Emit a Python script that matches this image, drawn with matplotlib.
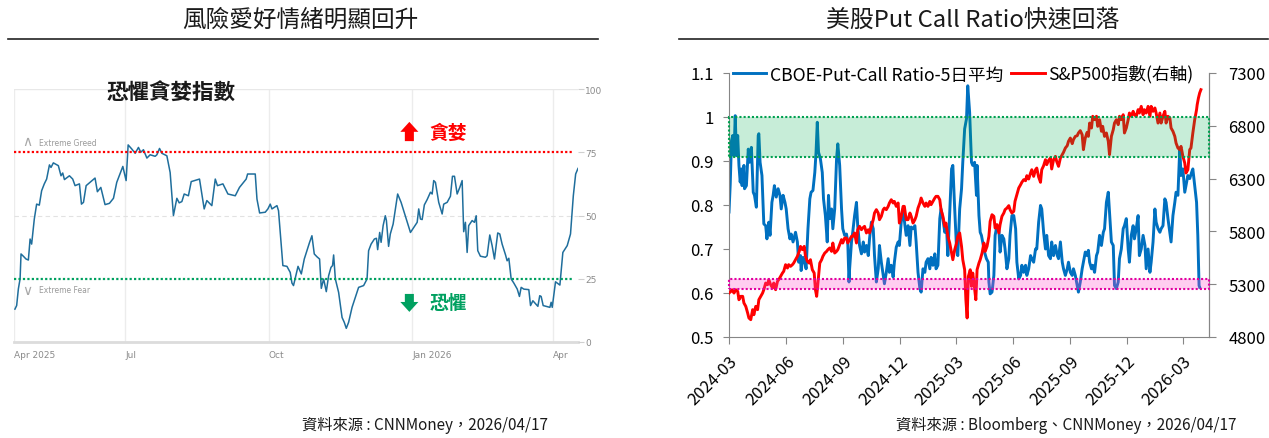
import matplotlib
matplotlib.use('Agg')
from matplotlib import pyplot as plt
from matplotlib.patches import Rectangle
from matplotlib.lines import Line2D
import matplotlib.transforms as mtransforms
import pandas as pd

plt.rcParams['font.family'] = ['Noto Sans CJK TC', 'DejaVu Sans']
NARROW = ['Liberation Sans Narrow', 'DejaVu Sans']

# ---------------- left: CNN fear & greed index (days since 2025-04-21)
fg_start = '2025-04-21'
fg_day = [0.4, 1.5, 2.6, 3.7, 4.3, 5.8, 7.5, 9.0, 10.1, 11.1,
          12.8, 14.3, 16.0, 17.5, 19.2, 20.7, 22.5, 23.5, 25.0, 28.2,
          29.9, 31.0, 32.1, 35.3, 37.4, 38.9, 41.7, 43.0, 44.3, 46.0,
          48.5, 51.7, 53.2, 55.4, 58.1, 60.9, 63.5, 65.6, 69.5, 71.6,
          72.9, 75.2, 77.4, 79.5, 81.0, 82.7, 84.9, 87.0, 90.2, 91.3,
          93.0, 94.5, 97.7, 99.8, 101.9, 104.1, 105.6, 107.3, 108.8, 111.5,
          113.3, 118.6, 121.6, 123.3, 126.5, 128.7, 130.1, 133.6, 136.8, 141.5,
          144.2, 148.5, 149.4, 154.3, 155.4, 157.1, 160.7, 162.4, 163.9, 165.0,
          168.2, 169.2, 172.0, 174.6, 176.7, 177.8, 178.8, 181.7, 183.8,
          185.7, 187.4, 189.1, 190.6, 192.1, 193.8, 195.5, 196.6, 198.1, 199.8,
          201.3, 202.8, 203.8, 204.5, 205.6, 207.7, 209.9, 211.3, 212.6, 214.1,
          216.3, 218.4, 220.5, 223.7, 225.9, 226.9, 228.5, 230.6, 231.9, 232.7,
          234.0, 234.9, 236.2, 237.6, 238.3, 239.7, 240.8, 242.6, 245.5, 247.7,
          250.4, 253.7, 255.4, 258.0, 259.0, 260.1, 261.2, 262.6, 264.4, 266.5,
          267.6, 268.6, 269.7, 271.8, 274.0, 275.0, 277.2, 279.3, 280.6, 281.9,
          283.6, 285.3, 286.8, 287.8, 288.9, 290.0, 291.0, 293.2, 294.7, 295.8,
          296.8, 298.5, 301.7, 302.8, 304.5, 306.0, 307.5, 309.6, 310.9, 312.4,
          314.6, 315.6, 316.7, 318.2, 319.9, 322.1, 323.5, 324.6, 326.3, 329.5,
          330.6, 332.1, 335.3, 336.5, 337.4, 338.7, 343.0, 343.8, 344.5, 346.6,
          349.4, 351.3, 353.0, 354.1, 356.2, 358.0, 359.5, 361.0]
fg_val = [13.0, 14.4, 21.0, 25.0, 34.8, 33.9, 32.8, 32.4, 40.7, 38.7,
          48.6, 54.5, 54.1, 59.8, 62.5, 64.4, 70.0, 69.0, 70.8, 69.7,
          65.7, 66.8, 64.2, 65.7, 64.4, 61.8, 62.5, 54.5, 55.2, 61.8,
          63.1, 64.8, 59.4, 61.1, 54.3, 54.8, 56.8, 63.1, 69.4, 63.8,
          77.9, 76.3, 74.6, 76.9, 75.0, 76.0, 72.7, 74.0, 73.4, 74.0,
          76.5, 74.6, 73.6, 67.0, 50.0, 56.8, 55.0, 55.5, 58.5, 57.8,
          63.4, 64.4, 52.6, 55.9, 53.9, 64.4, 61.8, 62.5, 58.5, 57.8,
          61.1, 64.4, 66.4, 66.4, 56.5, 51.0, 51.3, 52.6, 54.5, 52.6,
          53.9, 51.9, 30.2, 29.9, 27.5, 23.3, 22.3, 29.9, 26.9,
          32.8, 36.1, 39.4, 42.0, 34.8, 33.7, 32.8, 21.2, 24.9, 19.9,
          26.2, 29.5, 30.2, 34.4, 24.9, 19.6, 9.7, 7.8, 5.4, 7.8,
          13.7, 17.7, 21.6, 22.3, 24.9, 36.1, 38.7, 40.7, 41.0, 36.5,
          43.3, 39.4, 46.0, 49.9, 48.0, 37.8, 42.7, 46.6, 58.5, 55.2,
          49.9, 43.3, 44.9, 47.3, 52.6, 48.6, 48.4, 54.2, 56.3, 59.2,
          58.5, 63.8, 63.1, 55.2, 50.6, 54.5, 55.2, 57.6, 65.5, 65.5,
          58.5, 61.1, 63.8, 43.6, 47.3, 35.4, 46.0, 48.0, 47.3, 49.9,
          36.1, 33.9, 33.5, 34.1, 42.3, 38.1, 32.8, 43.1, 42.7, 38.7,
          34.4, 32.1, 33.1, 24.9, 23.3, 20.9, 18.0, 21.6, 20.9, 20.7,
          14.4, 16.3, 14.1, 18.3, 18.0, 14.4, 13.7, 15.7, 13.7, 23.8,
          22.5, 35.4, 37.0, 38.1, 42.7, 57.8, 66.4, 68.6]
fg_end = '2026-04-17'
fg_xticks = ['2025-04-21', '2025-07-01', '2025-10-01', '2026-01-01', '2026-04-01']
fg_xlabels = ['Apr 2025', 'Jul', 'Oct', 'Jan 2026', 'Apr']
fg_yticks = [0, 25, 50, 75, 100]
greed_level = 75
fear_level = 25

# ---------------- right: put/call ratio and S&P 500 (days since 2024-03-01)
pcr_start = '2024-03-01'
pcr_day = [0, 2, 4, 6, 8, 10, 12, 14, 16, 18, 20, 21, 24, 25, 28, 31, 33, 36, 39, 41,
           44, 47, 48, 50, 53, 56, 59, 61, 64, 66, 69, 71, 73, 76, 79, 82, 84, 87, 90, 92,
           95, 98, 100, 103, 107, 110, 112, 115, 116, 119, 122, 124, 127, 130, 132, 135, 138, 140, 142, 144,
           147, 150, 152, 155, 158, 160, 162, 165, 167, 170, 173, 175, 178, 181, 183, 186, 189, 191, 193,
           194, 197, 199, 202, 205, 207, 210, 213, 216, 218, 221, 224, 226, 229, 232, 234, 237, 240, 242, 245,
           248, 250, 253, 256, 258, 261, 264, 266, 269, 272, 274, 277, 280, 283, 285, 288, 291, 293, 296, 299,
           301, 304, 307, 309, 312, 315, 317, 320, 323, 325, 328, 331, 333, 336, 339, 341, 344, 347, 350, 352,
           355, 358, 360, 363, 366, 368, 371, 374, 376, 379, 382, 384,
           387, 390, 392, 395, 398, 399, 402, 404, 406, 409, 411, 414, 417, 418, 420, 423, 426, 428, 431, 434,
           436, 439, 442, 444, 447, 450, 452, 455, 458, 461, 463, 466, 469, 471, 474, 477, 479, 482, 485, 487,
           490, 493, 495, 498, 501, 503, 506, 509, 511, 514, 517, 519, 522, 525, 528, 530, 533, 536, 538, 541,
           544, 546, 549, 552, 554, 557, 560, 562, 565, 568, 570, 573, 576, 578,
           580, 583, 585, 588, 591, 593, 596, 599, 602, 604, 607, 610, 612, 615, 618, 620, 623, 626, 628, 631,
           634, 636, 639, 642, 644, 647, 650, 652, 655, 658, 660, 663, 666, 669, 671, 674, 677, 679, 682, 685,
           687, 690, 693, 695, 698, 701, 703, 706, 709, 711, 714, 717, 719, 722, 725, 727, 730, 733, 736, 738,
           741, 744, 746, 749, 752, 754, 756, 757]
pcr_val = [0.784, 0.848, 0.946, 0.958, 0.912, 1.003, 0.912, 0.958, 0.89, 0.852,
           0.882, 0.844, 0.89, 0.837, 0.844, 0.927, 0.897, 0.931, 0.829, 0.822,
           0.795, 0.958, 0.962, 0.897, 0.867, 0.757, 0.753, 0.723, 0.761, 0.731,
           0.806, 0.822, 0.844, 0.818, 0.837, 0.822, 0.791, 0.822, 0.806, 0.791,
           0.746, 0.723, 0.734, 0.716, 0.738, 0.716, 0.67, 0.685, 0.651, 0.681,
           0.67, 0.655, 0.746, 0.814, 0.829, 0.833, 0.874, 0.92, 0.988, 0.92,
           0.905, 0.874, 0.814, 0.776, 0.716, 0.822, 0.769, 0.791, 0.746, 0.791,
           0.905, 0.939, 0.89, 0.791, 0.746, 0.731, 0.734, 0.716, 0.625,
           0.655, 0.716, 0.738, 0.776, 0.806, 0.753, 0.708, 0.689, 0.716, 0.693,
           0.708, 0.685, 0.723, 0.761, 0.746, 0.685, 0.625, 0.655, 0.708, 0.67,
           0.64, 0.621, 0.647, 0.678, 0.647, 0.663, 0.636, 0.67, 0.704, 0.716,
           0.708, 0.761, 0.791, 0.753, 0.731, 0.753, 0.708, 0.75, 0.746, 0.753,
           0.716, 0.647, 0.61, 0.602, 0.655, 0.647, 0.67, 0.678, 0.655, 0.681,
           0.663, 0.689, 0.655, 0.663, 0.769, 0.791, 0.769, 0.738, 0.746, 0.685,
           0.784, 0.882, 0.89, 0.791, 0.70, 0.685, 0.791, 0.837, 0.897, 0.973,
           0.996, 1.071,
           1.011, 0.897, 0.89, 0.897, 0.822, 0.89, 0.776, 0.738, 0.731, 0.708,
           0.693, 0.678, 0.67, 0.625, 0.598, 0.602, 0.64, 0.731, 0.753, 0.746,
           0.693, 0.731, 0.723, 0.70, 0.655, 0.678, 0.731, 0.776, 0.776, 0.746,
           0.67, 0.632, 0.64, 0.663, 0.647, 0.663, 0.64, 0.655, 0.685, 0.678,
           0.67, 0.70, 0.70, 0.761, 0.799, 0.791, 0.738, 0.70, 0.731, 0.685,
           0.678, 0.716, 0.685, 0.708, 0.685, 0.678, 0.716, 0.67, 0.655, 0.64,
           0.655, 0.67, 0.647, 0.64, 0.655, 0.64, 0.617, 0.602, 0.625, 0.655,
           0.67, 0.693, 0.685, 0.697,
           0.67, 0.655, 0.663, 0.647, 0.685, 0.693, 0.731, 0.708, 0.738, 0.746,
           0.806, 0.829, 0.784, 0.716, 0.708, 0.617, 0.61, 0.625, 0.678, 0.70,
           0.746, 0.753, 0.769, 0.70, 0.67, 0.731, 0.753, 0.723, 0.746, 0.776,
           0.685, 0.70, 0.731, 0.708, 0.655, 0.70, 0.647, 0.67, 0.716, 0.791,
           0.761, 0.746, 0.738, 0.746, 0.753, 0.814, 0.806, 0.769, 0.738, 0.716,
           0.776, 0.806, 0.829, 0.822, 0.93, 0.867, 0.882, 0.829, 0.852, 0.867,
           0.86, 0.874, 0.882, 0.844, 0.806, 0.731, 0.617, 0.613]

spx_day = [0, 3, 5, 8, 11, 14, 16, 19, 22, 24, 27, 30, 32, 35, 38, 40, 43, 46, 48, 51,
           54, 56, 59, 62, 64, 67, 70, 72, 75, 78, 80, 83, 86, 88, 91, 94, 96, 99, 102, 104,
           107, 110, 113, 115, 118, 121, 123, 126, 129, 131, 134, 137, 139, 141, 143, 146, 149, 151, 154, 157,
           159, 162, 165, 167, 170, 173, 175, 178, 181, 183, 186,
           189, 191, 194, 197, 199, 202, 205, 207, 210, 213, 215, 218, 221, 224, 226, 229, 232, 234, 237, 240,
           242, 245, 248, 250, 253, 256, 258, 261, 264, 266, 269, 272, 274, 277, 280, 282, 285, 288, 291, 293,
           296, 299, 301, 304, 307, 309, 312, 315, 317, 320, 323, 325, 328, 331, 333, 336, 339, 341, 344, 347,
           349, 352, 355, 357, 360, 363, 366, 368, 371, 374, 376,
           379, 381, 383, 385, 388, 390, 392, 394, 397, 399, 402, 404, 407, 410, 412, 415, 418, 420, 423, 426,
           428, 431, 434, 436, 439, 442, 444, 447, 450, 452, 455, 458, 460, 463, 466, 469, 471, 474, 477, 479,
           482, 485, 487, 490, 493, 495, 498, 501, 503, 506, 509, 511, 514, 517, 519, 522, 525, 527, 530, 533,
           535, 538, 541, 544, 546, 549, 552, 554, 557, 560, 562, 565, 568, 570, 573, 576, 578,
           580, 583, 585, 588, 591, 593, 596, 599, 601, 604, 607, 610, 612, 615, 618, 620, 623, 626, 628, 631,
           634, 636, 639, 642, 644, 647, 650, 652, 655, 658, 660, 663, 666, 668, 671, 674, 677, 679, 682, 685,
           687, 690, 693, 695, 698, 701, 703, 706, 709, 711, 714, 717, 719, 722, 725, 727, 730, 733, 735, 738,
           741, 743, 746, 749, 752, 753, 755, 757, 759]
spx_val = [5216, 5232, 5248, 5216, 5248, 5232, 5153, 5185, 5185, 5122,
           5090, 5027, 4980, 4964, 5059, 5011, 5090, 5059, 5153, 5185,
           5216, 5248, 5311, 5295, 5343, 5295, 5264, 5311, 5248, 5327,
           5343, 5374, 5406, 5422, 5485, 5453, 5485, 5469, 5485, 5500,
           5532, 5564, 5611, 5658, 5627, 5658, 5564, 5516, 5500, 5532,
           5437, 5406, 5248, 5185, 5311, 5500, 5532, 5564, 5595, 5611,
           5627, 5643, 5611, 5690, 5595, 5611, 5627, 5674, 5722, 5690, 5737,
           5737, 5690, 5722, 5753, 5753, 5785, 5690, 5816, 5848, 5816,
           5832, 5848, 5785, 5816, 5785, 5848, 5911, 5974, 6006, 5974,
           5911, 5943, 6006, 6021, 6006, 6037, 6069, 6100, 6069, 6084,
           6037, 6069, 5879, 5943, 6037, 6037, 5911, 5911, 5974, 5943,
           5879, 5911, 5943, 6021, 6069, 6116, 6069, 6037, 6069, 6037,
           6084, 6053, 6084, 6116, 6132, 6132, 6100, 6006, 5943, 5848,
           5879, 5753, 5690, 5627, 5532, 5627, 5690, 5753, 5785, 5658, 5532,
           5437, 5153, 4980, 5374, 5437, 5280, 5406, 5311, 5153, 5437,
           5500, 5532, 5595, 5690, 5611, 5658, 5753, 5895, 5958, 5943,
           5832, 5864, 5785, 5864, 5943, 5974, 6006, 6021, 6044, 6006,
           5974, 5990, 6085, 6148, 6211, 6242, 6265, 6290, 6280, 6328,
           6296, 6353, 6384, 6321, 6384, 6400, 6315, 6265, 6384, 6422,
           6479, 6432, 6473, 6495, 6391, 6479, 6511, 6463, 6416, 6495,
           6517, 6549, 6590, 6612, 6653, 6684, 6631, 6669, 6700, 6706,
           6732, 6754, 6716, 6574, 6684, 6738, 6700,
           6826, 6779, 6890, 6858, 6890, 6795, 6858, 6748, 6795, 6700,
           6732, 6653, 6527, 6700, 6763, 6826, 6858, 6811, 6890, 6858,
           6905, 6732, 6779, 6858, 6921, 6890, 6937, 6905, 6890, 6953,
           6921, 6984, 6905, 6953, 6921, 6984, 6890, 6984, 6937, 6969,
           6921, 6826, 6921, 6826, 6890, 6937, 6826, 6890, 6874, 6779,
           6748, 6700, 6637, 6590, 6574, 6605, 6511, 6448, 6353, 6384,
           6574, 6590, 6732, 6858, 6953, 7000, 7063, 7111, 7142]
pcr_end = '2026-04-12'
pcr_xticks = ['2024-03-01', '2024-06-01', '2024-09-01', '2024-12-01', '2025-03-01',
              '2025-06-01', '2025-09-01', '2025-12-01', '2026-03-01']
pcr_xlabels = ['2024-03', '2024-06', '2024-09', '2024-12', '2025-03',
               '2025-06', '2025-09', '2025-12', '2026-03']
pcr_yticks = [0.5, 0.6, 0.7, 0.8, 0.9, 1.0, 1.1]
pcr_ylabels = ['0.5', '0.6', '0.7', '0.8', '0.9', '1', '1.1']
spx_yticks = [4800, 5300, 5800, 6300, 6800, 7300]
high_band = (0.91, 1.0)
low_band = (0.608, 0.632)

fig = plt.figure(figsize=(12.69, 4.39), dpi=100)

# ================= left panel
ax = fig.add_axes([14 / 1269, 96 / 439, 564 / 1269, 253 / 439])
t0 = pd.Timestamp(fg_start)
fg_x = t0 + pd.to_timedelta(fg_day, unit='D')
ax.plot(fg_x, fg_val, color='#1f6e9c', lw=1.1, zorder=3)
ax.set_ylim(0, 100)
ax.set_xlim(t0 - pd.Timedelta(days=0.2), pd.Timestamp(fg_end))
for s in ax.spines.values():
    s.set_visible(False)
ax.yaxis.tick_right()
ax.set_yticks(fg_yticks)
ax.set_yticklabels([str(v) for v in fg_yticks])
ax.tick_params(axis='y', length=4, color='#d0d0d0', labelsize=6.5, labelcolor='#8a8a8a', pad=1)
ax.set_xticks(pd.to_datetime(fg_xticks))
ax.set_xticklabels(fg_xlabels, ha='left')
ax.tick_params(axis='x', length=0, labelsize=6.5, labelcolor='#8a8a8a', pad=6)
for t in ax.get_xticklabels() + ax.get_yticklabels():
    t.set_family(NARROW)
for xt in pd.to_datetime(fg_xticks):
    ax.axvline(xt, color='#ececec', lw=1, zorder=1)
ax.axhline(100, color='#e8e8e8', lw=1, zorder=1)
ax.axhline(50, color='#e2e2e2', lw=0.8, ls=(0, (4, 3)), zorder=1)
ax.axhline(0, color='#dcdcdc', lw=2, zorder=1, clip_on=False)
ax.axhline(greed_level, xmax=0.99, color='#ff0000', lw=1.6, ls=(0, (1, 1)), zorder=4)
ax.axhline(fear_level, xmax=0.99, color='#00a060', lw=1.6, ls=(0, (1, 1)), zorder=4)


def fgd(d):
    return t0 + pd.Timedelta(days=d)


ax.text(fgd(100.4), 98.7, '恐懼貪婪指數', ha='center', va='center', fontsize=15.5,
        fontweight='bold', color='#1a1a1a')
ax.text(fgd(8.5), 79.5, '∧', ha='center', va='center', fontsize=10, color='#a8a8a8',
        family='DejaVu Sans')
ax.text(fgd(15.5), 78.9, 'Extreme Greed', ha='left', va='center', fontsize=5.5,
        color='#9a9a9a', family=NARROW)
ax.text(fgd(8.5), 20.5, '∨', ha='center', va='center', fontsize=10, color='#a8a8a8',
        family='DejaVu Sans')
ax.text(fgd(15.5), 20.7, 'Extreme Fear', ha='left', va='center', fontsize=5.5,
        color='#9a9a9a', family=NARROW)

arrow_style = 'simple,head_width=1.0,head_length=0.55,tail_width=0.5'
ax.annotate('', xy=(fgd(253), 87.0), xytext=(fgd(253), 79.4),
            arrowprops=dict(arrowstyle=arrow_style, mutation_scale=13, color='#ff0000',
                            lw=0, shrinkA=0, shrinkB=0))
ax.text(fgd(277.7), 82.8, '貪婪', ha='center', va='center', fontsize=13.5,
        fontweight='bold', color='#ff0000')
ax.annotate('', xy=(fgd(253), 11.9), xytext=(fgd(253), 19.0),
            arrowprops=dict(arrowstyle=arrow_style, mutation_scale=13, color='#00a060',
                            lw=0, shrinkA=0, shrinkB=0))
ax.text(fgd(277.7), 15.8, '恐懼', ha='center', va='center', fontsize=13.5,
        fontweight='bold', color='#00a060')

# ================= right panel
ax2 = fig.add_axes([729 / 1269, 101 / 439, 480 / 1269, 264 / 439])
ax3 = ax2.twinx()
p0 = pd.Timestamp(pcr_start)
pcr_x = p0 + pd.to_timedelta(pcr_day, unit='D')
spx_x = p0 + pd.to_timedelta(spx_day, unit='D')
l1, = ax2.plot(pcr_x, pcr_val, color='#0070c0', lw=2.1)
l2, = ax3.plot(spx_x, spx_val, color='#ff0000', lw=2.1)
ax2.set_ylim(0.5, 1.1)
ax3.set_ylim(4800, 7300)
ax2.set_xlim(p0, pd.Timestamp(pcr_end))
ax2.set_yticks(pcr_yticks)
ax2.set_yticklabels(pcr_ylabels)
ax3.set_yticks(spx_yticks)
ax3.set_yticklabels([str(v) for v in spx_yticks])
ax2.set_xticks(pd.to_datetime(pcr_xticks))
ax2.set_xticklabels(pcr_xlabels, rotation=45, ha='right', rotation_mode='anchor')

spine_c = '#868686'
for a in (ax2, ax3):
    a.spines['top'].set_visible(False)
    for s in ('left', 'right', 'bottom'):
        a.spines[s].set_color(spine_c)
ax3.spines['left'].set_visible(False)
ax3.spines['bottom'].set_visible(False)
ax2.tick_params(axis='y', direction='out', length=4, color=spine_c, labelsize=12, pad=7)
ax3.tick_params(axis='y', direction='out', length=5, color=spine_c, labelsize=12, pad=9)
ax2.tick_params(axis='x', direction='out', length=5, color=spine_c, labelsize=12, pad=6)

trans = mtransforms.blended_transform_factory(ax2.transAxes, ax2.transData)
bands = [(high_band, (0.0, 0.69, 0.31, 0.22), '#00a050'),
         (low_band, (1.0, 0.3, 0.8, 0.28), '#e000a0')]
for (lo, hi), fc, ec in bands:
    ax3.add_patch(Rectangle((0, lo), 1, hi - lo, transform=trans, facecolor=fc,
                            edgecolor=ec, lw=1.5, linestyle=(0, (1, 1)), zorder=5,
                            clip_on=False))

leg = ax3.legend([l1, l2], ['CBOE-Put-Call Ratio-5日平均', 'S&P500指數(右軸)'],
                 loc='center left', bbox_to_anchor=(0.008, 0.995), ncol=2, frameon=False,
                 fontsize=12.7, handlelength=1.9, handletextpad=0.2, columnspacing=0.45,
                 borderaxespad=0, borderpad=0)
leg.set_zorder(10)

# ================= titles, rules, sources
fig.text(300 / 1269, 1 - 20 / 439, '風險愛好情緒明顯回升', ha='center', va='center',
         fontsize=17, color='#1a1a1a')
fig.text(973 / 1269, 1 - 20 / 439, '美股Put Call Ratio快速回落', ha='center', va='center',
         fontsize=17.2, color='#1a1a1a')
fig.add_artist(Line2D([8 / 1269, 598 / 1269], [1 - 40 / 439] * 2, color='#222222', lw=1.2))
fig.add_artist(Line2D([679 / 1269, 1268 / 1269], [1 - 40 / 439] * 2, color='#222222', lw=1.2))
fig.text(548 / 1269, 1 - 425 / 439, '資料來源 : CNNMoney，2026/04/17', ha='right',
         va='center', fontsize=11, color='#1a1a1a')
fig.text(1237 / 1269, 1 - 425 / 439, '資料來源 : Bloomberg、CNNMoney，2026/04/17', ha='right',
         va='center', fontsize=11, color='#1a1a1a')

fig.savefig('out.png', dpi=100)
